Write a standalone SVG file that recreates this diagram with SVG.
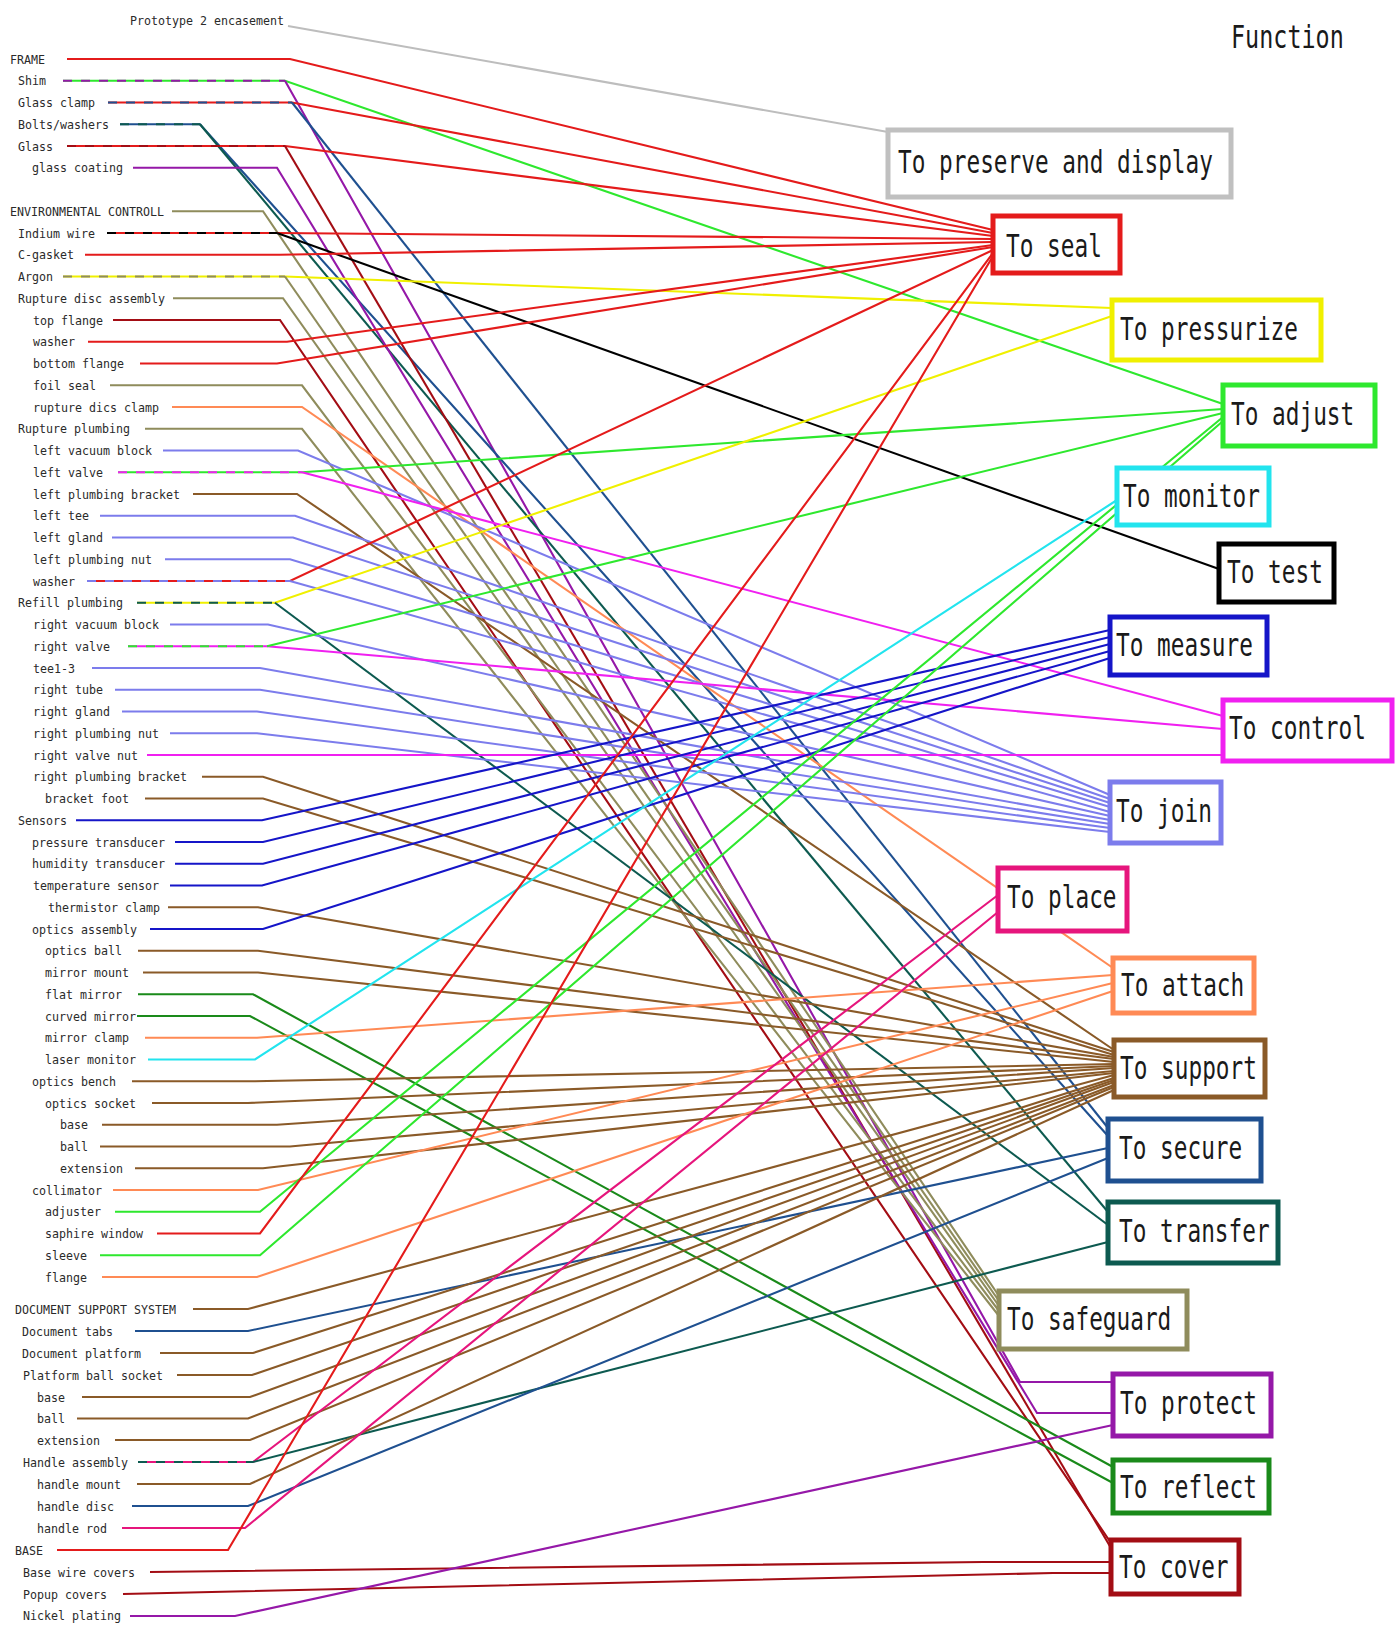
<svg xmlns="http://www.w3.org/2000/svg" width="1398" height="1625" viewBox="0 0 1398 1625">
<style>
.lb{font-family:"DejaVu Sans Mono","Liberation Mono",monospace;font-size:13px;fill:#2a2a2a}
.bt{font-family:"DejaVu Sans Mono","Liberation Mono",monospace;font-size:32px;fill:#1a1a1a}
.bx{fill:#fff;stroke-width:5}
#connectors path{fill:none;stroke-width:2.1}
.d{stroke-dasharray:9 9}
.gray{stroke:#bdbdbd}
.seal{stroke:#e41b1b}
.pres{stroke:#f0f000}
.adj{stroke:#2ee82e}
.mon{stroke:#22e4ee}
.test{stroke:#000}
.meas{stroke:#1515c8}
.ctrl{stroke:#f020f0}
.join{stroke:#7c7cec}
.place{stroke:#e6157c}
.att{stroke:#ff8a55}
.sup{stroke:#8a5a28}
.sec{stroke:#1f5090}
.trans{stroke:#0d5a50}
.safe{stroke:#8f8c5c}
.prot{stroke:#9518a8}
.refl{stroke:#1a8a1a}
.cov{stroke:#a30d14}
</style>
<rect width="1398" height="1625" fill="#fff"/>
<g id="connectors">
<path class="gray" d="M288,26L888,132"/>
<path class="seal" d="M67,59H290L993,230"/>
<path class="adj" d="M63,80.75H285L1223,404"/><path class="prot" d="M285,80.75L1020,1382H1113"/><path class="prot d" d="M63,80.75H285"/>
<path class="seal" d="M108,102.5H292L993,233"/><path class="sec" d="M292,102.5L1108,1128"/><path class="sec d" d="M108,102.5H292"/>
<path class="sec" d="M120,124.25H200L1108,1136"/><path class="trans" d="M200,124.25L1108,1212"/><path class="trans d" d="M120,124.25H200"/>
<path class="seal" d="M67,146H285L993,236"/><path class="cov" d="M285,146L1111,1548"/><path class="cov d" d="M67,146H285"/>
<path class="prot" d="M133,167.75H277L1037,1413H1113"/>
<path class="safe" d="M172,211.25H263L999,1296"/>
<path class="seal" d="M107,233H277L993,239"/><path class="test" d="M277,233L1219,569"/><path class="test d" d="M107,233H277"/>
<path class="seal" d="M85,254.75H280L993,242"/>
<path class="pres" d="M63,276.5H285L1112,308"/><path class="safe" d="M285,276.5L999,1301"/><path class="safe d" d="M63,276.5H285"/>
<path class="safe" d="M173,298.25H283L999,1306"/>
<path class="cov" d="M113,320H280L1111,1543"/>
<path class="seal" d="M88,341.75H287L993,245"/>
<path class="seal" d="M140,363.5H277L993,247"/>
<path class="safe" d="M110,385.25H302L999,1311"/>
<path class="att" d="M172,407H302L1113,968"/>
<path class="safe" d="M145,428.75H302L999,1316"/>
<path class="join" d="M163,450.5H298L1110,795"/>
<path class="adj" d="M118,472.25H302L1223,409"/><path class="ctrl" d="M302,472.25L1223,716"/><path class="ctrl d" d="M118,472.25H302"/>
<path class="sup" d="M193,494H297L1114,1050"/>
<path class="join" d="M100,515.75H295L1110,799"/>
<path class="join" d="M112,537.5H293L1110,803"/>
<path class="join" d="M165,559.25H290L1110,807"/>
<path class="seal" d="M87,581H290L993,250"/><path class="join" d="M290,581L1110,812"/><path class="join d" d="M87,581H290"/>
<path class="pres" d="M137,602.75H275L1112,316"/><path class="trans" d="M275,602.75L1108,1225"/><path class="trans d" d="M137,602.75H275"/>
<path class="join" d="M170,624.5H268L1110,816"/>
<path class="ctrl" d="M128,646.25H267L1223,729"/><path class="adj" d="M267,646.25L1223,413"/><path class="adj d" d="M128,646.25H267"/>
<path class="join" d="M92,668H260L1110,820"/>
<path class="join" d="M115,689.75H260L1110,824"/>
<path class="join" d="M122,711.5H257L1110,828"/>
<path class="join" d="M170,733.25H257L1110,832"/>
<path class="ctrl" d="M147,755H1223"/>
<path class="sup" d="M202,776.75H263L1114,1052"/>
<path class="sup" d="M145,798.5H263L1114,1055"/>
<path class="meas" d="M76,820.25H262L1110,630"/>
<path class="meas" d="M175,842H263L1110,637"/>
<path class="meas" d="M175,863.75H263L1110,644"/>
<path class="meas" d="M170,885.5H262L1110,651"/>
<path class="sup" d="M168,907.25H258L1114,1057"/>
<path class="meas" d="M150,929H263L1110,658"/>
<path class="sup" d="M138,950.75H258L1114,1059"/>
<path class="sup" d="M143,972.5H258L1114,1062"/>
<path class="refl" d="M138,994.25H253L1113,1467"/>
<path class="refl" d="M137,1016H250L1113,1483"/>
<path class="att" d="M145,1037.75H257L1113,975"/>
<path class="mon" d="M148,1059.5H255L1117,500"/>
<path class="sup" d="M132,1081.25H255L1114,1064"/>
<path class="sup" d="M152,1103H248L1114,1066"/>
<path class="sup" d="M102,1124.75H277L1114,1068"/>
<path class="sup" d="M100,1146.5H290L1114,1071"/>
<path class="sup" d="M135,1168.25H263L1114,1073"/>
<path class="att" d="M113,1190H258L1113,983"/>
<path class="adj" d="M115,1211.75H260L1223,417"/>
<path class="seal" d="M157,1233.5H260L993,253"/>
<path class="adj" d="M100,1255.25H260L1223,421"/>
<path class="att" d="M102,1277H257L1113,991"/>
<path class="sup" d="M193,1309H248L1114,1075"/>
<path class="sec" d="M135,1331H248L1108,1148"/>
<path class="sup" d="M160,1353H253L1114,1078"/>
<path class="sup" d="M177,1375H252L1114,1080"/>
<path class="sup" d="M82,1397H250L1114,1082"/>
<path class="sup" d="M77,1418.5H248L1114,1085"/>
<path class="sup" d="M115,1440H250L1114,1087"/>
<path class="place" d="M138,1462H253L998,895"/><path class="trans" d="M253,1462L1108,1242"/><path class="trans d" d="M138,1462H253"/>
<path class="sup" d="M137,1484H250L1114,1090"/>
<path class="sec" d="M132,1506H248L1108,1158"/>
<path class="place" d="M122,1528H245L998,912"/>
<path class="seal" d="M57,1550H228L993,256"/>
<path class="cov" d="M150,1572L983,1562H1111"/>
<path class="cov" d="M123,1594L1053,1573H1111"/>
<path class="prot" d="M130,1616H235L1113,1425"/>
</g>
<g id="parts">
<g id="p-proto"><text class="lb" x="130" y="25" textLength="154" lengthAdjust="spacingAndGlyphs">Prototype 2 encasement</text></g>
<g id="p00"><text class="lb" x="10" y="63.5" textLength="35" lengthAdjust="spacingAndGlyphs">FRAME</text></g>
<g id="p01"><text class="lb" x="18" y="85.2" textLength="28" lengthAdjust="spacingAndGlyphs">Shim</text></g>
<g id="p02"><text class="lb" x="18" y="107" textLength="77" lengthAdjust="spacingAndGlyphs">Glass clamp</text></g>
<g id="p03"><text class="lb" x="18" y="128.7" textLength="91" lengthAdjust="spacingAndGlyphs">Bolts/washers</text></g>
<g id="p04"><text class="lb" x="18" y="150.5" textLength="35" lengthAdjust="spacingAndGlyphs">Glass</text></g>
<g id="p05"><text class="lb" x="32" y="172.2" textLength="91" lengthAdjust="spacingAndGlyphs">glass coating</text></g>
<g id="p07"><text class="lb" x="10" y="215.7" textLength="154" lengthAdjust="spacingAndGlyphs">ENVIRONMENTAL CONTROLL</text></g>
<g id="p08"><text class="lb" x="18" y="237.5" textLength="77" lengthAdjust="spacingAndGlyphs">Indium wire</text></g>
<g id="p09"><text class="lb" x="18" y="259.2" textLength="56" lengthAdjust="spacingAndGlyphs">C-gasket</text></g>
<g id="p10"><text class="lb" x="18" y="281" textLength="35" lengthAdjust="spacingAndGlyphs">Argon</text></g>
<g id="p11"><text class="lb" x="18" y="302.7" textLength="147" lengthAdjust="spacingAndGlyphs">Rupture disc assembly</text></g>
<g id="p12"><text class="lb" x="33" y="324.5" textLength="70" lengthAdjust="spacingAndGlyphs">top flange</text></g>
<g id="p13"><text class="lb" x="33" y="346.2" textLength="42" lengthAdjust="spacingAndGlyphs">washer</text></g>
<g id="p14"><text class="lb" x="33" y="368" textLength="91" lengthAdjust="spacingAndGlyphs">bottom flange</text></g>
<g id="p15"><text class="lb" x="33" y="389.7" textLength="63" lengthAdjust="spacingAndGlyphs">foil seal</text></g>
<g id="p16"><text class="lb" x="33" y="411.5" textLength="126" lengthAdjust="spacingAndGlyphs">rupture dics clamp</text></g>
<g id="p17"><text class="lb" x="18" y="433.2" textLength="112" lengthAdjust="spacingAndGlyphs">Rupture plumbing</text></g>
<g id="p18"><text class="lb" x="33" y="455" textLength="119" lengthAdjust="spacingAndGlyphs">left vacuum block</text></g>
<g id="p19"><text class="lb" x="33" y="476.7" textLength="70" lengthAdjust="spacingAndGlyphs">left valve</text></g>
<g id="p20"><text class="lb" x="33" y="498.5" textLength="147" lengthAdjust="spacingAndGlyphs">left plumbing bracket</text></g>
<g id="p21"><text class="lb" x="33" y="520.2" textLength="56" lengthAdjust="spacingAndGlyphs">left tee</text></g>
<g id="p22"><text class="lb" x="33" y="542" textLength="70" lengthAdjust="spacingAndGlyphs">left gland</text></g>
<g id="p23"><text class="lb" x="33" y="563.7" textLength="119" lengthAdjust="spacingAndGlyphs">left plumbing nut</text></g>
<g id="p24"><text class="lb" x="33" y="585.5" textLength="42" lengthAdjust="spacingAndGlyphs">washer</text></g>
<g id="p25"><text class="lb" x="18" y="607.2" textLength="105" lengthAdjust="spacingAndGlyphs">Refill plumbing</text></g>
<g id="p26"><text class="lb" x="33" y="629" textLength="126" lengthAdjust="spacingAndGlyphs">right vacuum block</text></g>
<g id="p27"><text class="lb" x="33" y="650.7" textLength="77" lengthAdjust="spacingAndGlyphs">right valve</text></g>
<g id="p28"><text class="lb" x="33" y="672.5" textLength="42" lengthAdjust="spacingAndGlyphs">tee1-3</text></g>
<g id="p29"><text class="lb" x="33" y="694.2" textLength="70" lengthAdjust="spacingAndGlyphs">right tube</text></g>
<g id="p30"><text class="lb" x="33" y="716" textLength="77" lengthAdjust="spacingAndGlyphs">right gland</text></g>
<g id="p31"><text class="lb" x="33" y="737.7" textLength="126" lengthAdjust="spacingAndGlyphs">right plumbing nut</text></g>
<g id="p32"><text class="lb" x="33" y="759.5" textLength="105" lengthAdjust="spacingAndGlyphs">right valve nut</text></g>
<g id="p33"><text class="lb" x="33" y="781.2" textLength="154" lengthAdjust="spacingAndGlyphs">right plumbing bracket</text></g>
<g id="p34"><text class="lb" x="45" y="803" textLength="84" lengthAdjust="spacingAndGlyphs">bracket foot</text></g>
<g id="p35"><text class="lb" x="18" y="824.7" textLength="49" lengthAdjust="spacingAndGlyphs">Sensors</text></g>
<g id="p36"><text class="lb" x="32" y="846.5" textLength="133" lengthAdjust="spacingAndGlyphs">pressure transducer</text></g>
<g id="p37"><text class="lb" x="32" y="868.2" textLength="133" lengthAdjust="spacingAndGlyphs">humidity transducer</text></g>
<g id="p38"><text class="lb" x="33" y="890" textLength="126" lengthAdjust="spacingAndGlyphs">temperature sensor</text></g>
<g id="p39"><text class="lb" x="48" y="911.7" textLength="112" lengthAdjust="spacingAndGlyphs">thermistor clamp</text></g>
<g id="p40"><text class="lb" x="32" y="933.5" textLength="105" lengthAdjust="spacingAndGlyphs">optics assembly</text></g>
<g id="p41"><text class="lb" x="45" y="955.2" textLength="77" lengthAdjust="spacingAndGlyphs">optics ball</text></g>
<g id="p42"><text class="lb" x="45" y="977" textLength="84" lengthAdjust="spacingAndGlyphs">mirror mount</text></g>
<g id="p43"><text class="lb" x="45" y="998.7" textLength="77" lengthAdjust="spacingAndGlyphs">flat mirror</text></g>
<g id="p44"><text class="lb" x="45" y="1020.5" textLength="91" lengthAdjust="spacingAndGlyphs">curved mirror</text></g>
<g id="p45"><text class="lb" x="45" y="1042.2" textLength="84" lengthAdjust="spacingAndGlyphs">mirror clamp</text></g>
<g id="p46"><text class="lb" x="45" y="1064" textLength="91" lengthAdjust="spacingAndGlyphs">laser monitor</text></g>
<g id="p47"><text class="lb" x="32" y="1085.7" textLength="84" lengthAdjust="spacingAndGlyphs">optics bench</text></g>
<g id="p48"><text class="lb" x="45" y="1107.5" textLength="91" lengthAdjust="spacingAndGlyphs">optics socket</text></g>
<g id="p49"><text class="lb" x="60" y="1129.2" textLength="28" lengthAdjust="spacingAndGlyphs">base</text></g>
<g id="p50"><text class="lb" x="60" y="1151" textLength="28" lengthAdjust="spacingAndGlyphs">ball</text></g>
<g id="p51"><text class="lb" x="60" y="1172.7" textLength="63" lengthAdjust="spacingAndGlyphs">extension</text></g>
<g id="p52"><text class="lb" x="32" y="1194.5" textLength="70" lengthAdjust="spacingAndGlyphs">collimator</text></g>
<g id="p53"><text class="lb" x="45" y="1216.2" textLength="56" lengthAdjust="spacingAndGlyphs">adjuster</text></g>
<g id="p54"><text class="lb" x="45" y="1238" textLength="98" lengthAdjust="spacingAndGlyphs">saphire window</text></g>
<g id="p55"><text class="lb" x="45" y="1259.7" textLength="42" lengthAdjust="spacingAndGlyphs">sleeve</text></g>
<g id="p56"><text class="lb" x="45" y="1281.5" textLength="42" lengthAdjust="spacingAndGlyphs">flange</text></g>
<g id="d00"><text class="lb" x="15" y="1313.5" textLength="161" lengthAdjust="spacingAndGlyphs">DOCUMENT SUPPORT SYSTEM</text></g>
<g id="d01"><text class="lb" x="22" y="1335.5" textLength="91" lengthAdjust="spacingAndGlyphs">Document tabs</text></g>
<g id="d02"><text class="lb" x="22" y="1357.5" textLength="119" lengthAdjust="spacingAndGlyphs">Document platform</text></g>
<g id="d03"><text class="lb" x="23" y="1379.5" textLength="140" lengthAdjust="spacingAndGlyphs">Platform ball socket</text></g>
<g id="d04"><text class="lb" x="37" y="1401.5" textLength="28" lengthAdjust="spacingAndGlyphs">base</text></g>
<g id="d05"><text class="lb" x="37" y="1423" textLength="28" lengthAdjust="spacingAndGlyphs">ball</text></g>
<g id="d06"><text class="lb" x="37" y="1444.5" textLength="63" lengthAdjust="spacingAndGlyphs">extension</text></g>
<g id="d07"><text class="lb" x="23" y="1466.5" textLength="105" lengthAdjust="spacingAndGlyphs">Handle assembly</text></g>
<g id="d08"><text class="lb" x="37" y="1488.5" textLength="84" lengthAdjust="spacingAndGlyphs">handle mount</text></g>
<g id="d09"><text class="lb" x="37" y="1510.5" textLength="77" lengthAdjust="spacingAndGlyphs">handle disc</text></g>
<g id="d10"><text class="lb" x="37" y="1532.5" textLength="70" lengthAdjust="spacingAndGlyphs">handle rod</text></g>
<g id="d11"><text class="lb" x="15" y="1554.5" textLength="28" lengthAdjust="spacingAndGlyphs">BASE</text></g>
<g id="d12"><text class="lb" x="23" y="1576.5" textLength="112" lengthAdjust="spacingAndGlyphs">Base wire covers</text></g>
<g id="d13"><text class="lb" x="23" y="1598.5" textLength="84" lengthAdjust="spacingAndGlyphs">Popup covers</text></g>
<g id="d14"><text class="lb" x="23" y="1620" textLength="98" lengthAdjust="spacingAndGlyphs">Nickel plating</text></g>
</g>
<g id="functions">
<g id="f-title"><text class="bt" transform="matrix(0.732,0,0,1,1231,48)">Function</text></g>
<g id="f-preserve"><rect class="bx" x="888" y="130" width="343" height="67" stroke="#c0c0c0"/><text class="bt" transform="matrix(0.711,0,0,1,898,173)">To preserve and display</text></g>
<g id="f-seal"><rect class="bx" x="993" y="216" width="127" height="57" stroke="#e41b1b"/><text class="bt" transform="matrix(0.711,0,0,1,1006,257)">To seal</text></g>
<g id="f-pressurize"><rect class="bx" x="1112" y="300" width="209" height="60" stroke="#f0f000"/><text class="bt" transform="matrix(0.711,0,0,1,1120,340)">To pressurize</text></g>
<g id="f-adjust"><rect class="bx" x="1223" y="385" width="152" height="61" stroke="#2ee82e"/><text class="bt" transform="matrix(0.711,0,0,1,1231,425)">To adjust</text></g>
<g id="f-monitor"><rect class="bx" x="1117" y="468" width="152" height="57" stroke="#22e4ee"/><text class="bt" transform="matrix(0.711,0,0,1,1123,507)">To monitor</text></g>
<g id="f-test"><rect class="bx" x="1219" y="544" width="115" height="58" stroke="#000"/><text class="bt" transform="matrix(0.711,0,0,1,1227,583)">To test</text></g>
<g id="f-measure"><rect class="bx" x="1110" y="617" width="157" height="58" stroke="#1515c8"/><text class="bt" transform="matrix(0.711,0,0,1,1116,656)">To measure</text></g>
<g id="f-control"><rect class="bx" x="1223" y="700" width="169" height="61" stroke="#f020f0"/><text class="bt" transform="matrix(0.711,0,0,1,1229,739)">To control</text></g>
<g id="f-join"><rect class="bx" x="1110" y="782" width="111" height="61" stroke="#7c7cec"/><text class="bt" transform="matrix(0.711,0,0,1,1116,822)">To join</text></g>
<g id="f-place"><rect class="bx" x="998" y="868" width="129" height="63" stroke="#e6157c"/><text class="bt" transform="matrix(0.711,0,0,1,1007,908)">To place</text></g>
<g id="f-attach"><rect class="bx" x="1113" y="958" width="141" height="55" stroke="#ff8a55"/><text class="bt" transform="matrix(0.711,0,0,1,1121,996)">To attach</text></g>
<g id="f-support"><rect class="bx" x="1114" y="1040" width="151" height="57" stroke="#8a5a28"/><text class="bt" transform="matrix(0.711,0,0,1,1120,1079)">To support</text></g>
<g id="f-secure"><rect class="bx" x="1108" y="1119" width="153" height="62" stroke="#1f5090"/><text class="bt" transform="matrix(0.711,0,0,1,1119,1159)">To secure</text></g>
<g id="f-transfer"><rect class="bx" x="1108" y="1202" width="170" height="61" stroke="#0d5a50"/><text class="bt" transform="matrix(0.711,0,0,1,1119,1242)">To transfer</text></g>
<g id="f-safeguard"><rect class="bx" x="999" y="1291" width="188" height="58" stroke="#8f8c5c"/><text class="bt" transform="matrix(0.711,0,0,1,1007,1330)">To safeguard</text></g>
<g id="f-protect"><rect class="bx" x="1113" y="1374" width="158" height="62" stroke="#9518a8"/><text class="bt" transform="matrix(0.711,0,0,1,1120,1414)">To protect</text></g>
<g id="f-reflect"><rect class="bx" x="1113" y="1460" width="156" height="53" stroke="#1a8a1a"/><text class="bt" transform="matrix(0.711,0,0,1,1120,1498)">To reflect</text></g>
<g id="f-cover"><rect class="bx" x="1111" y="1540" width="128" height="54" stroke="#a30d14"/><text class="bt" transform="matrix(0.711,0,0,1,1119,1578)">To cover</text></g>
</g>
</svg>
